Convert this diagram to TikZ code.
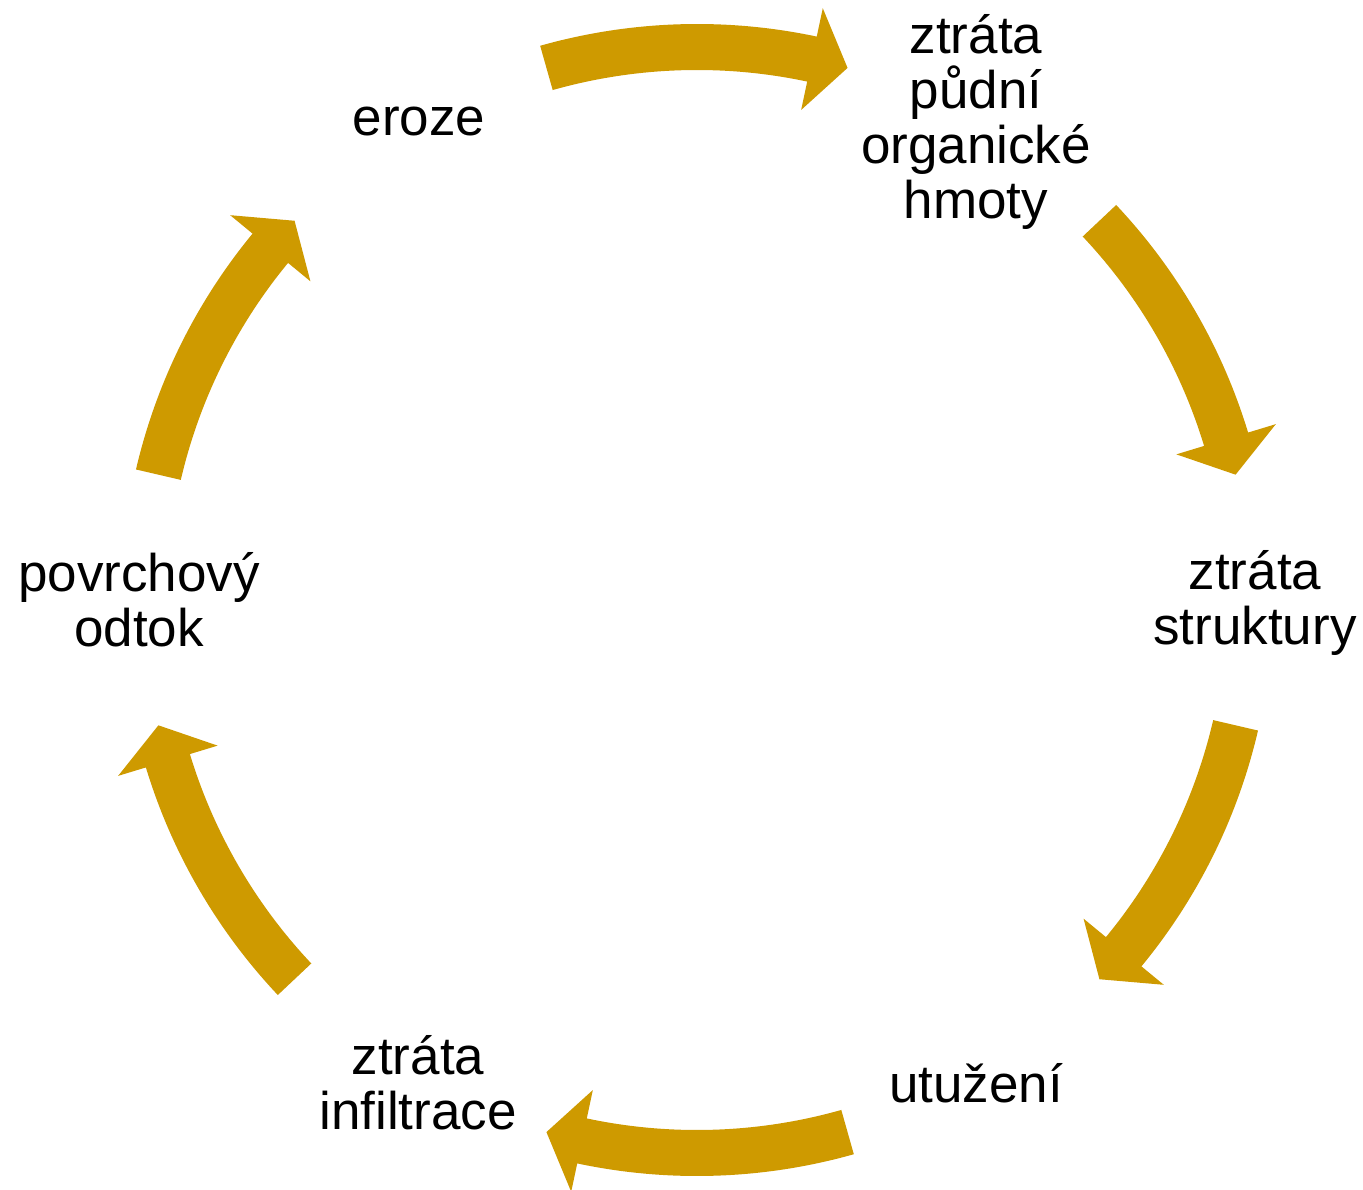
\documentclass[tikz,border=0pt]{standalone}
\usepackage{fontspec}
\usetikzlibrary{calc}
\setmainfont{Liberation Sans}
\definecolor{arrowgold}{RGB}{206,154,0}
\newcommand\cyclearrow[2]{%
  \pgfmathsetmacro\ab{#2+3.8}%
  \fill[arrowgold] (#1:576) arc[start angle=#1, end angle=\ab, radius=576]
    -- (\ab:605) -- (#2:553) -- (\ab:501) -- (\ab:530)
    arc[start angle=\ab, end angle=#1, radius=530] -- cycle;}
\begin{document}
\begin{tikzpicture}[x=1pt,y=1pt,
  label/.style={align=center, inner sep=0pt, font=\fontsize{53}{55}\selectfont}]
\useasboundingbox (-697,-589) rectangle (666,600);
\node[label] (eroze) at ($(120:558)+(1,-5)$) {eroze};
\node[label] (organ) at ($(60:558)+(0,-5)$) {ztráta\\půdní\\organické\\hmoty};
\node[label] (strukt) at ($(0:558)+(0,-3)$) {ztráta\\struktury};
\node[label] (utuz) at (-60:558) {utužení};
\node[label] (infil) at ($(-120:558)+(0,1)$) {ztráta\\infiltrace};
\node[label] (odtok) at (180:558) {povrchový\\odtok};
\cyclearrow{105.8}{74.2}
\cyclearrow{43.3}{13.1}
\cyclearrow{-13.1}{-43.3}
\cyclearrow{-74.2}{-105.8}
\cyclearrow{-136.7}{-166.9}
\cyclearrow{166.9}{136.7}
\end{tikzpicture}
\end{document}
